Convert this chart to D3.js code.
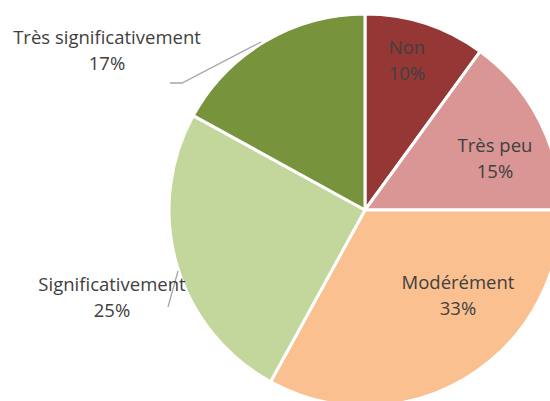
<!DOCTYPE html>
<html>
<head>
<meta charset="utf-8">
<script src="https://cdn.jsdelivr.net/npm/d3@7"></script>
<style>
  body { margin: 0; background: #fff; }
  svg { display: block; }
  .lbl { font-family: "Open Sans", sans-serif; font-size: 18.5px; fill: #404040; }
</style>
</head>
<body>
<div id="chart"></div>
<script>
const categories = ['Non', 'Très peu', 'Modérément', 'Significativement', 'Très significativement']
const values = [10, 15, 33, 25, 17]
const colors = ['#953735', '#d99694', '#fac090', '#c3d69b', '#77933c']

// label anchor points (centre of the two text lines) and leader lines
const labelPos = [[407, 60], [495, 158], [458, 295], [112, 297], [107, 50]]
const leaders = [null, null, null, [[168, 307], [178, 271]], [[170, 83], [182, 83], [261, 42]]]

const width = 550
const height = 401
const center = [365, 210]
const radius = 196

const svg = d3.select('#chart').append('svg')
  .attr('width', width)
  .attr('height', height)

const pie = d3.pie().sort(null).value(d => d)
const arc = d3.arc().innerRadius(0).outerRadius(radius)

const g = svg.append('g').attr('transform', `translate(${center[0]},${center[1]})`)

g.selectAll('path')
  .data(pie(values))
  .enter().append('path')
  .attr('d', arc)
  .style('fill', (d, i) => colors[i])
  .style('stroke', '#fff')
  .style('stroke-width', 3)
  .style('stroke-linejoin', 'round')

const line = d3.line()
svg.selectAll('path.leader')
  .data(leaders.filter(d => d))
  .enter().append('path')
  .attr('class', 'leader')
  .attr('d', line)
  .style('fill', 'none')
  .style('stroke', '#a6a6a6')
  .style('stroke-width', 1.3)

const total = d3.sum(values)
categories.forEach((c, i) => {
  const [x, y] = labelPos[i]
  const t = svg.append('text')
    .attr('class', 'lbl')
    .attr('text-anchor', 'middle')
  t.append('tspan').attr('x', x).attr('y', y - 6).text(c)
  t.append('tspan').attr('x', x).attr('y', y + 20)
    .text(Math.round(values[i] / total * 100) + '%')
})
</script>
</body>
</html>
